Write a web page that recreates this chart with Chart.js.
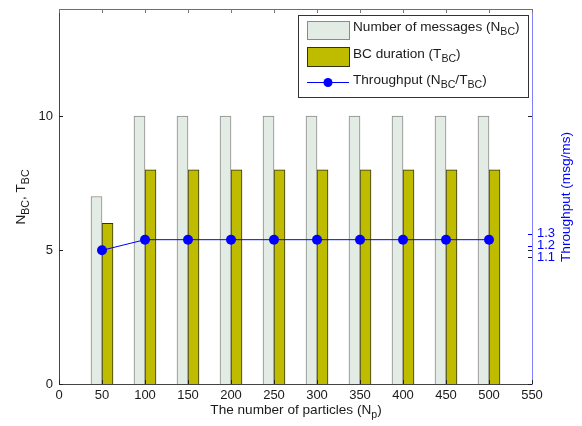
<!DOCTYPE html>
<html><head><meta charset="utf-8">
<script src="https://cdn.jsdelivr.net/npm/chart.js@4/dist/chart.umd.min.js"></script>
<style>html,body{margin:0;padding:0;background:#fff}#wrap{width:582px;height:426px;position:relative}canvas{display:block}</style>
</head><body><div id="wrap"><canvas id="c" width="582" height="426" style="width:582px;height:426px"></canvas></div>
<script>
const particles = [50, 100, 150, 200, 250, 300, 350, 400, 450, 500];
const messages = [7, 10, 10, 10, 10, 10, 10, 10, 10, 10];
const bcDuration = [6, 8, 8, 8, 8, 8, 8, 8, 8, 8];
const throughput = [1.16, 1.25, 1.25, 1.25, 1.25, 1.25, 1.25, 1.25, 1.25, 1.25];
const xTicks = [0, 50, 100, 150, 200, 250, 300, 350, 400, 450, 500, 550];
const leftTicks = [0, 5, 10];
const rightTicks = [1.1, 1.2, 1.3];

const FONT = '"Liberation Sans", Arial, sans-serif';
const FS = 13;
const TFS = 13.6;
const LIGHT = '#e2ece4', LIGHT_B = '#8a8a8a';
const OLIVE = '#bfbc00', OLIVE_B = '#333318';
const BLUE = '#0000ff';

function richWidth(ctx, parts, size) {
  let w = 0;
  for (const p of parts) {
    ctx.font = (p.sub ? size * 0.78 : size) + 'px ' + FONT;
    w += ctx.measureText(p.t).width;
  }
  return w;
}
function drawRich(ctx, parts, x, y, size, align) {
  const w = richWidth(ctx, parts, size);
  let cx = align === 'center' ? x - w / 2 : x;
  ctx.textBaseline = 'middle';
  ctx.textAlign = 'left';
  for (const p of parts) {
    ctx.font = (p.sub ? size * 0.78 : size) + 'px ' + FONT;
    ctx.fillText(p.t, cx, p.sub ? y + size * 0.38 : y);
    cx += ctx.measureText(p.t).width;
  }
}

const decor = {
  id: 'decor',
  afterDraw(chart) {
    const ctx = chart.ctx, a = chart.chartArea;
    const xs = chart.scales.x, ys = chart.scales.y, y1 = chart.scales.y1;
    ctx.save();
    ctx.strokeStyle = '#6e6e6e'; ctx.lineWidth = 1;
    ctx.beginPath(); ctx.moveTo(a.left, a.top + 0.5); ctx.lineTo(a.right, a.top + 0.5); ctx.stroke();
    for (const v of xTicks) {
      const px = Math.round(xs.getPixelForValue(v)) + 0.5;
      ctx.strokeStyle = '#222';
      ctx.beginPath(); ctx.moveTo(px, a.bottom); ctx.lineTo(px, a.bottom - 4); ctx.stroke();
      ctx.strokeStyle = '#777';
      ctx.beginPath(); ctx.moveTo(px, a.top); ctx.lineTo(px, a.top + 4); ctx.stroke();
    }
    ctx.strokeStyle = '#222';
    for (const v of leftTicks) {
      const py = Math.round(ys.getPixelForValue(v)) + 0.5;
      ctx.beginPath(); ctx.moveTo(a.left, py); ctx.lineTo(a.left + 4, py); ctx.stroke();
      ctx.beginPath(); ctx.moveTo(a.right, py); ctx.lineTo(a.right - 4, py); ctx.stroke();
    }
    ctx.strokeStyle = BLUE;
    for (const v of rightTicks) {
      const py = Math.round(y1.getPixelForValue(v)) + 0.5;
      ctx.beginPath(); ctx.moveTo(a.right, py); ctx.lineTo(a.right - 4, py); ctx.stroke();
    }
    const lx = 298, ly = 15, lw = 230, lh = 82;
    ctx.fillStyle = '#fff'; ctx.fillRect(lx, ly, lw, lh);
    ctx.strokeStyle = '#333'; ctx.lineWidth = 1;
    ctx.strokeRect(lx + 0.5, ly + 0.5, lw, lh);
    ctx.fillStyle = LIGHT; ctx.strokeStyle = LIGHT_B;
    ctx.fillRect(307, 21, 42, 18); ctx.strokeRect(307.5, 21.5, 42, 18);
    ctx.fillStyle = OLIVE; ctx.strokeStyle = OLIVE_B;
    ctx.fillRect(307, 47, 42, 19); ctx.strokeRect(307.5, 47.5, 42, 19);
    ctx.strokeStyle = BLUE; ctx.beginPath(); ctx.moveTo(307, 82.5); ctx.lineTo(349, 82.5); ctx.stroke();
    ctx.fillStyle = BLUE; ctx.beginPath(); ctx.arc(328, 82.5, 4.5, 0, Math.PI * 2); ctx.fill();
    ctx.fillStyle = '#1a1a1a';
    drawRich(ctx, [{t: 'Number of messages (N'}, {t: 'BC', sub: true}, {t: ')'}], 353, 27, TFS, 'left');
    drawRich(ctx, [{t: 'BC duration (T'}, {t: 'BC', sub: true}, {t: ')'}], 353, 54, TFS, 'left');
    drawRich(ctx, [{t: 'Throughput (N'}, {t: 'BC', sub: true}, {t: '/T'}, {t: 'BC', sub: true}, {t: ')'}], 353, 80, TFS, 'left');
    drawRich(ctx, [{t: 'The number of particles (N'}, {t: 'p', sub: true}, {t: ')'}], 296, 410, TFS, 'center');
    ctx.save(); ctx.translate(21, 197); ctx.rotate(-Math.PI / 2);
    drawRich(ctx, [{t: 'N'}, {t: 'BC', sub: true}, {t: ', T'}, {t: 'BC', sub: true}], 0, 0, TFS, 'center');
    ctx.restore();
    ctx.save(); ctx.translate(566, 197); ctx.rotate(-Math.PI / 2);
    ctx.fillStyle = BLUE;
    drawRich(ctx, [{t: 'Throughput (msg/ms)'}], 0, 0, TFS, 'center');
    ctx.restore();
    ctx.restore();
  }
};

new Chart(document.getElementById('c'), {
  type: 'bar',
  data: {
    datasets: [
      {
        type: 'line', label: 'Throughput',
        data: particles.map((x, i) => ({x, y: throughput[i]})),
        yAxisID: 'y1', order: 0,
        borderColor: BLUE, borderWidth: 1, backgroundColor: BLUE,
        pointRadius: 5, pointBackgroundColor: BLUE, pointBorderWidth: 0,
        tension: 0
      },
      {
        label: 'Number of messages',
        data: particles.map((x, i) => ({x, y: messages[i]})),
        yAxisID: 'y', order: 1,
        backgroundColor: LIGHT, borderColor: LIGHT_B, borderWidth: 1,
        barThickness: 11, borderSkipped: 'bottom'
      },
      {
        label: 'BC duration',
        data: particles.map((x, i) => ({x, y: bcDuration[i]})),
        yAxisID: 'y', order: 1,
        backgroundColor: OLIVE, borderColor: OLIVE_B, borderWidth: 1,
        barThickness: 11, borderSkipped: 'bottom'
      }
    ]
  },
  options: {
    responsive: false,
    animation: false,
    devicePixelRatio: 1,
    layout: {padding: {top: 9, left: 0, right: 0, bottom: 0}},
    plugins: {legend: {display: false}, tooltip: {enabled: false}},
    scales: {
      x: {
        type: 'linear', min: 0, max: 550, offset: false,
        afterBuildTicks: s => { s.ticks = xTicks.map(v => ({value: v})); },
        afterFit: s => { s.height = 42; s.paddingLeft = 0; s.paddingRight = 0; },
        grid: {display: false, drawTicks: false},
        border: {display: true, color: '#444'},
        ticks: {autoSkip: false, maxRotation: 0, padding: 4, color: '#1a1a1a', font: {family: FONT, size: FS}}
      },
      y: {
        position: 'left', min: 0, max: 14,
        afterBuildTicks: s => { s.ticks = leftTicks.map(v => ({value: v})); },
        afterFit: s => { s.width = 59; s.paddingTop = 0; s.paddingBottom = 0; },
        grid: {display: false, drawTicks: false},
        border: {display: true, color: '#444'},
        ticks: {autoSkip: false, padding: 6, color: '#1a1a1a', font: {family: FONT, size: FS}}
      },
      y1: {
        position: 'right', min: 0.03, max: 3.2,
        afterBuildTicks: s => { s.ticks = rightTicks.map(v => ({value: v})); },
        afterFit: s => { s.width = 50; s.paddingTop = 0; s.paddingBottom = 0; },
        grid: {display: false, drawTicks: false},
        border: {display: true, color: '#8080ff'},
        ticks: {autoSkip: false, padding: 5, color: BLUE, font: {family: FONT, size: FS},
          callback: v => Number(v).toFixed(1)}
      }
    }
  },
  plugins: [decor]
});
</script>
</body></html>
